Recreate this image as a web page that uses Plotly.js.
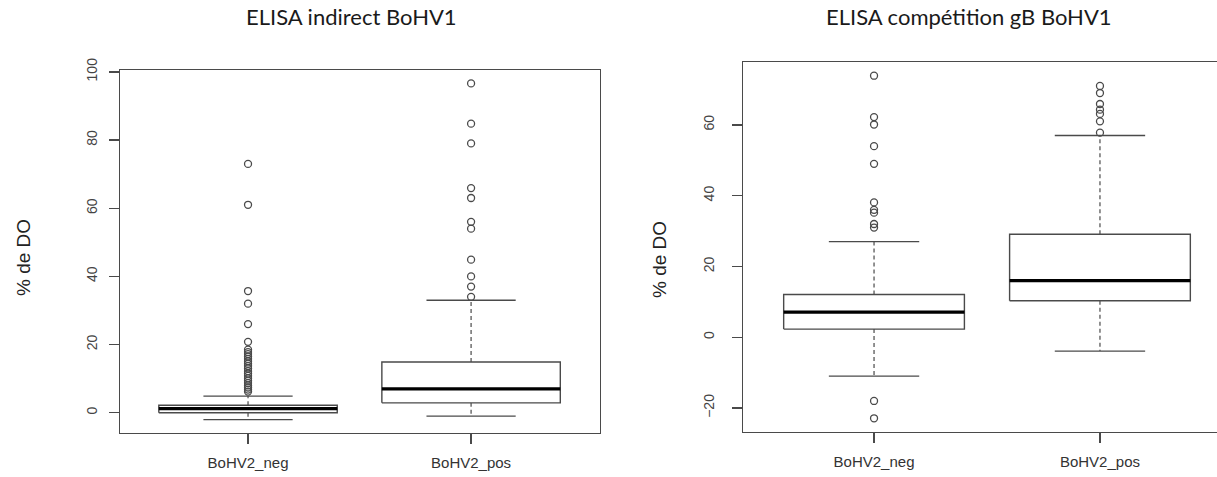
<!DOCTYPE html>
<html>
<head>
<meta charset="utf-8">
<script src="https://cdn.plot.ly/plotly-3.0.1.min.js"></script>
<style>
  html, body { margin: 0; padding: 0; background: #ffffff; }
  #chart { width: 1217px; height: 477px; }
</style>
</head>
<body>
<div id="chart"></div>
<script>
// ---------- Data ----------
const categories = ['BoHV2_neg', 'BoHV2_pos'];

// Panel 1 : ELISA indirect BoHV1
const indQ1     = [0.0, 2.9];
const indMedian = [1.2, 7.0];
const indQ3     = [2.2, 14.9];
const indLower  = [-2.0, -1.0];
const indUpper  = [4.9, 33.0];
const indOutNeg = [73, 61, 35.7, 32, 26, 20.8, 18.5, 17.8, 17.2, 16.5, 15.8, 15.1, 14.4, 13.7, 13.0, 12.2, 11.5, 10.8, 10.1, 9.4, 8.7, 8.0, 7.4, 6.8, 6.2];
const indOutPos = [96.6, 84.8, 79.0, 65.9, 63.0, 56.0, 54.0, 44.9, 40.0, 37.0, 34.0];

// Panel 2 : ELISA compétition gB BoHV1
const compQ1     = [2.3, 10.3];
const compMedian = [7.1, 16.0];
const compQ3     = [12.1, 29.1];
const compLower  = [-11.0, -3.9];
const compUpper  = [27.0, 57.0];
const compOutNeg = [73.9, 62.2, 60.1, 54.0, 49.0, 38.1, 36.0, 35.2, 32.0, 31.0, -18.0, -22.9];
const compOutPos = [71.0, 69.0, 65.9, 64.3, 63.1, 61.0, 57.8];

const yTicksInd  = [0, 20, 40, 60, 80, 100];
const yTicksComp = [-20, 0, 20, 40, 60];

// ---------- Styles ----------
const LINE = '#4a4a4a';
const BOXW = 0.8;      // R boxwex
const CAPW = 0.4;      // staple width
const TICKFONT = 'Liberation Sans, Arial, sans-serif';

function panelTraces(q1, med, q3, lo, hi, outliers, xa, ya) {
  const traces = [];
  categories.forEach((c, i) => {
    const p = i + 1;
    // dashed whisker stems
    traces.push({
      type: 'scatter', mode: 'lines', xaxis: xa, yaxis: ya, hoverinfo: 'skip', showlegend: false,
      x: [p, p, null, p, p], y: [q3[i], hi[i], null, q1[i], lo[i]],
      line: { color: LINE, width: 1.2, dash: '4px,3px' }
    });
    // whisker caps
    traces.push({
      type: 'scatter', mode: 'lines', xaxis: xa, yaxis: ya, hoverinfo: 'skip', showlegend: false,
      x: [p - CAPW / 2, p + CAPW / 2, null, p - CAPW / 2, p + CAPW / 2],
      y: [hi[i], hi[i], null, lo[i], lo[i]],
      line: { color: LINE, width: 1.3 }
    });
    // box body
    traces.push({
      type: 'scatter', mode: 'lines', xaxis: xa, yaxis: ya, showlegend: false, name: c,
      x: [p - BOXW / 2, p + BOXW / 2, p + BOXW / 2, p - BOXW / 2, p - BOXW / 2],
      y: [q1[i], q1[i], q3[i], q3[i], q1[i]],
      fill: 'toself', fillcolor: '#ffffff',
      line: { color: LINE, width: 1.4 }
    });
    // median
    traces.push({
      type: 'scatter', mode: 'lines', xaxis: xa, yaxis: ya, showlegend: false, name: c + ' median',
      x: [p - BOXW / 2, p + BOXW / 2], y: [med[i], med[i]],
      line: { color: '#000000', width: 3.2 }
    });
    // outliers
    traces.push({
      type: 'scatter', mode: 'markers', xaxis: xa, yaxis: ya, showlegend: false, name: c + ' outliers',
      x: outliers[i].map(() => p), y: outliers[i],
      marker: { symbol: 'circle-open', size: 7, color: LINE, line: { width: 1.3, color: LINE } }
    });
  });
  return traces;
}

const data = [].concat(
  panelTraces(indQ1, indMedian, indQ3, indLower, indUpper, [indOutNeg, indOutPos], 'x', 'y'),
  panelTraces(compQ1, compMedian, compQ3, compLower, compUpper, [compOutNeg, compOutPos], 'x2', 'y2')
);

function rRange(minV, maxV) {
  const pad = (maxV - minV) * 0.04;
  return [minV - pad, maxV + pad];
}
const indAll = [].concat(indLower, indUpper, indOutNeg, indOutPos);
const compAll = [].concat(compLower, compUpper, compOutNeg, compOutPos);

const W = 1217, H = 477;
const xAxisBase = {
  tickvals: [1, 2], ticktext: categories,
  ticks: 'outside', ticklen: 10, tickwidth: 1.3, tickcolor: LINE,
  showline: true, linecolor: LINE, linewidth: 1.3, mirror: true,
  showgrid: false, zeroline: false, fixedrange: true,
  tickfont: { family: TICKFONT, size: 15, color: '#333333' },
  ticklabelstandoff: 6
};
const yAxisBase = {
  tickangle: -90,
  ticks: 'outside', ticklen: 10, tickwidth: 1.3, tickcolor: LINE,
  showline: true, linecolor: LINE, linewidth: 1.3,
  showgrid: false, zeroline: false, fixedrange: true,
  tickfont: { family: TICKFONT, size: 14, color: '#444444' }
};

const layout = {
  width: W, height: H,
  margin: { l: 0, r: 0, t: 0, b: 0 },
  paper_bgcolor: '#ffffff', plot_bgcolor: '#ffffff',
  showlegend: false,
  xaxis: Object.assign({}, xAxisBase, {
    domain: [120 / W, 600 / W], range: [0.426, 2.578], anchor: 'y'
  }),
  yaxis: Object.assign({}, yAxisBase, {
    domain: [(H - 433) / H, (H - 70) / H], range: rRange(Math.min(...indAll), Math.max(...indAll)),
    tickvals: yTicksInd, mirror: true, anchor: 'x', ticklabelstandoff: 6
  }),
  xaxis2: Object.assign({}, xAxisBase, {
    domain: [743 / W, 1], range: [0.42, 2.518], anchor: 'y2'
  }),
  yaxis2: Object.assign({}, yAxisBase, {
    domain: [(H - 432) / H, (H - 62) / H], range: rRange(Math.min(...compAll), Math.max(...compAll)),
    tickvals: yTicksComp, mirror: false, anchor: 'x2', ticklabelstandoff: 12
  }),
  annotations: [
    { text: 'ELISA indirect BoHV1', xref: 'paper', yref: 'paper', x: 351 / W, y: (H - 16) / H,
      xanchor: 'center', yanchor: 'middle', showarrow: false,
      font: { family: 'Lato, Carlito, sans-serif', size: 22, color: '#1a1a1a' } },
    { text: 'ELISA compétition gB BoHV1', xref: 'paper', yref: 'paper', x: 969 / W, y: (H - 16) / H,
      xanchor: 'center', yanchor: 'middle', showarrow: false,
      font: { family: 'Lato, Carlito, sans-serif', size: 22, color: '#1a1a1a' } },
    { text: '% de DO', xref: 'paper', yref: 'paper', x: 23 / W, y: (H - 258) / H, textangle: -90,
      xanchor: 'center', yanchor: 'middle', showarrow: false,
      font: { family: TICKFONT, size: 19, color: '#222222' } },
    { text: '% de DO', xref: 'paper', yref: 'paper', x: 659 / W, y: (H - 260) / H, textangle: -90,
      xanchor: 'center', yanchor: 'middle', showarrow: false,
      font: { family: TICKFONT, size: 19, color: '#222222' } }
  ]
};

Plotly.newPlot('chart', data, layout, { staticPlot: true, displayModeBar: false });
</script>
</body>
</html>
